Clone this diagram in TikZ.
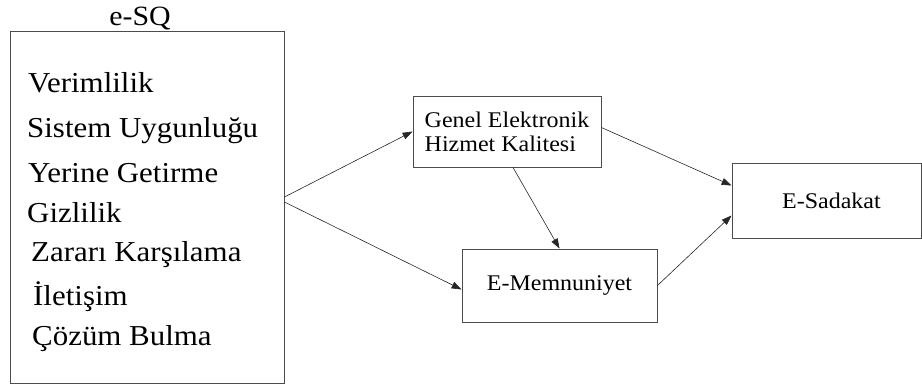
\documentclass[tikz,border=0pt]{standalone}
\usepackage{fontspec}
\setmainfont{Liberation Serif}[FakeStretch=1.07]
\usetikzlibrary{calc,arrows.meta,positioning}

\begin{document}
\begin{tikzpicture}[x=1bp,y=-1bp,
    box/.style={draw=black!70,line width=0.9pt,rectangle,inner sep=0pt},
    link/.style={-{Triangle[length=10pt,width=7pt]},line width=0.6pt,black!85},
    item/.style={anchor=base west,inner sep=0pt,font=\fontsize{29}{32}\selectfont}]
        \useasboundingbox (0,0) rectangle (922,391);
        % left block with the dimensions
        \node[box,minimum width=274bp,minimum height=352bp] (esq) at (147,207) {};
        \node[anchor=base,inner sep=0pt,font=\fontsize{28}{30}\selectfont] (title) at (140,25) {e-SQ};
        \foreach \t/\x/\y [count=\i] in {Verimlilik/28/92,Sistem Uygunluğu/27/137,Yerine Getirme/28/182,Gizlilik/27/222,Zararı Karşılama/31/261,İletişim/33/305,Çözüm Bulma/32/345}{\node[item] (i\i) at (\x,\y) {\t};}
        % model boxes
        \node[box,minimum width=188bp,minimum height=71bp,align=left,font=\fontsize{22.5}{24}\selectfont] (genel) at (507,131.5) {Genel Elektronik\\Hizmet Kalitesi};
        \node[box,minimum width=195bp,minimum height=73bp,font=\fontsize{22.5}{24}\selectfont] (memn) at (559.5,285.5) {E-Memnuniyet};
        \node[box,minimum width=189bp,minimum height=75bp,font=\fontsize{22.5}{24}\selectfont,text width=189bp,align=center] (sad) at (826.5,200.5) {\hspace*{10bp}E-Sadakat};
        \draw[link] ($(esq.east)+(0,-10)$) -- (genel.west);
        \draw[link] ($(esq.east)+(0,-5)$) -- ($(memn.west)+(0,4)$);
        \draw[link] ($(genel.south)+(6,0)$) -- (memn.north);
        \draw[link] ($(genel.east)+(0,-4)$) -- ($(sad.west)+(0,-15)$);
        \draw[link] (memn.east) -- ($(sad.west)+(0,15)$);
      \end{tikzpicture}
\end{document}
